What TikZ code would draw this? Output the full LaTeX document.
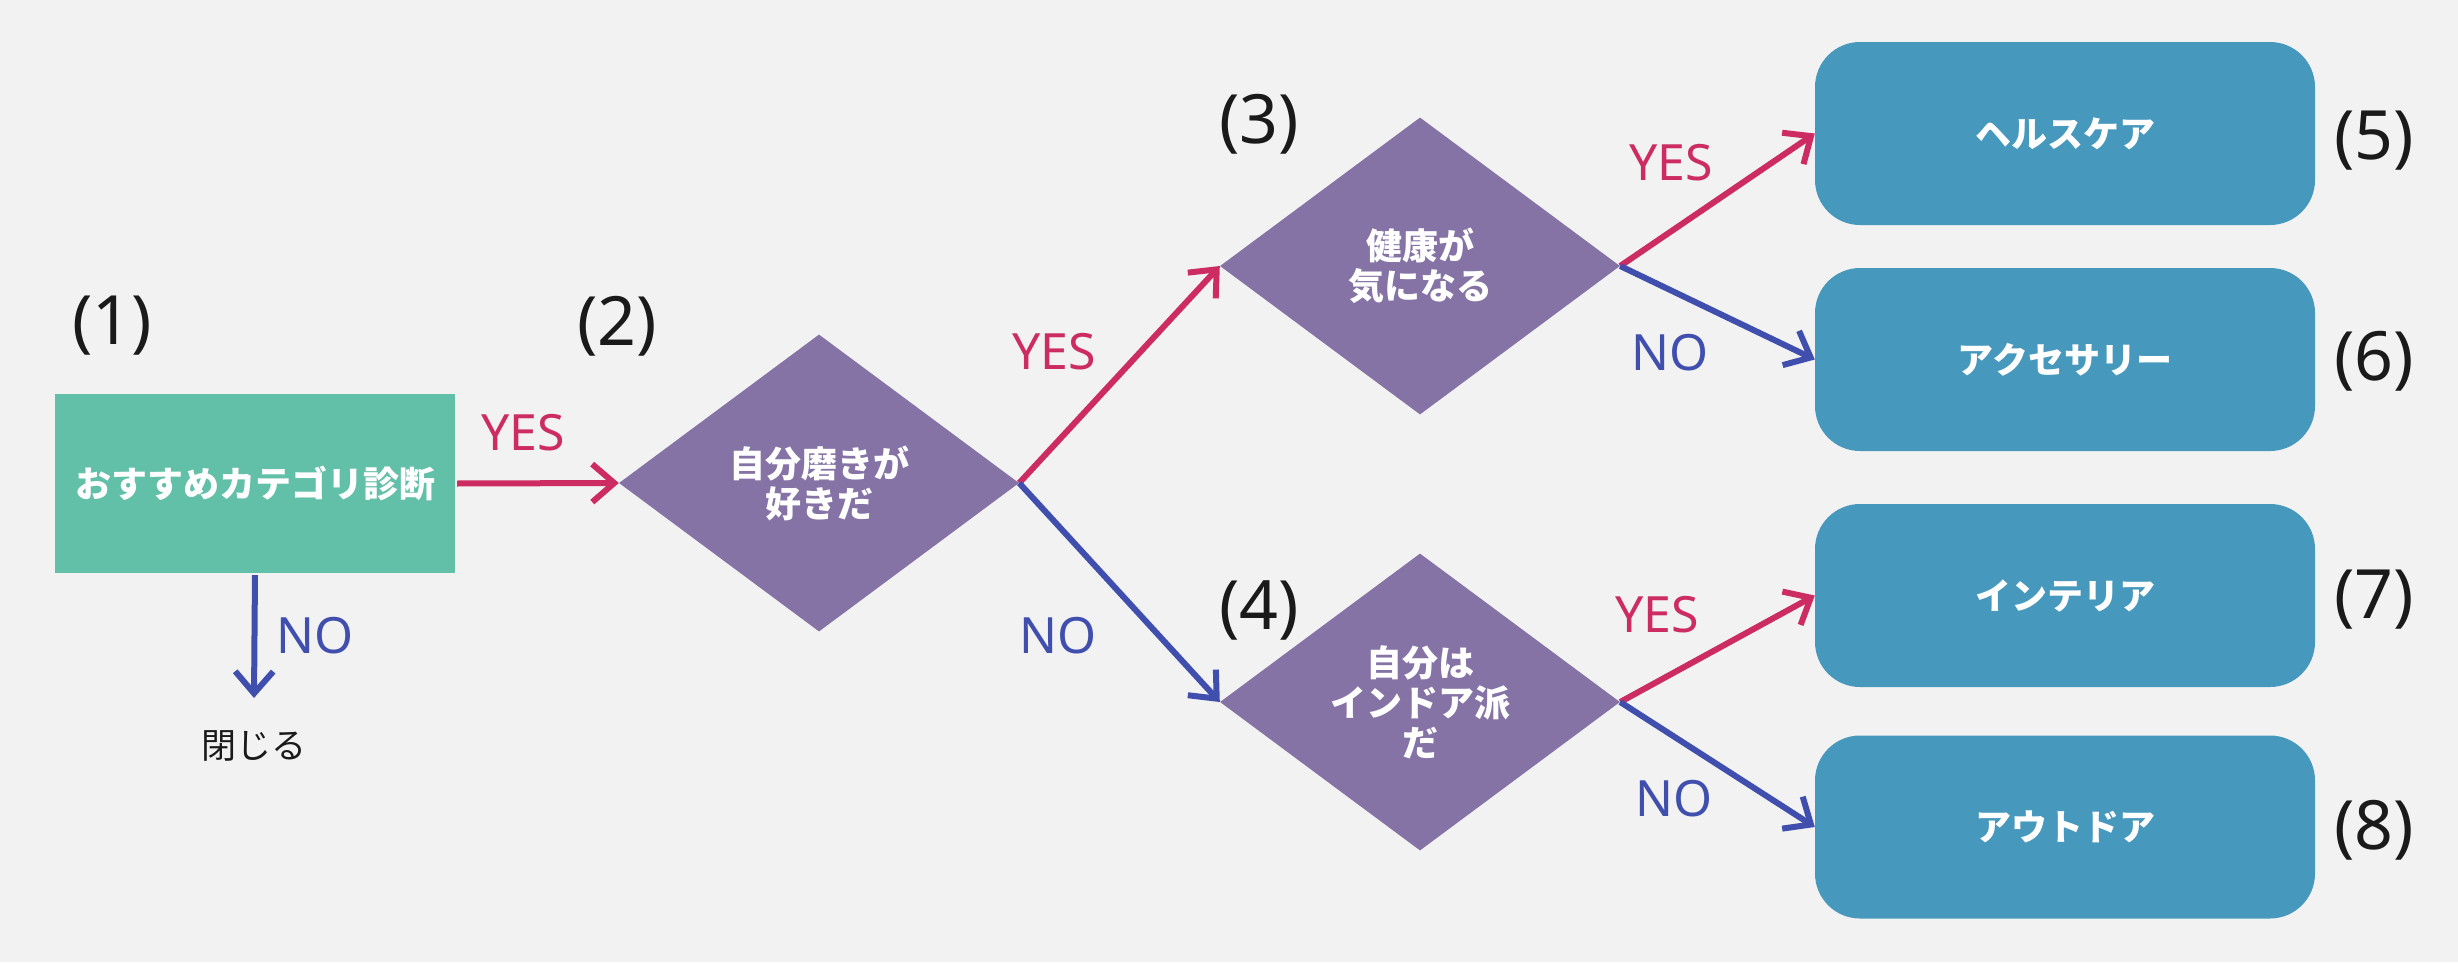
\documentclass[tikz,border=0pt]{standalone}
\usepackage{fontspec}
\setmainfont{Noto Sans}
\newfontfamily\cjk{Noto Sans CJK JP}
\usetikzlibrary{shapes.geometric,arrows.meta}
\definecolor{bgc}{HTML}{F2F2F2}
\definecolor{greenc}{HTML}{62BFA8}
\definecolor{purplec}{HTML}{8573A6}
\definecolor{bluec}{HTML}{4698BC}
\definecolor{yesc}{HTML}{CC2C62}
\definecolor{noc}{HTML}{404FAE}
\definecolor{textc}{HTML}{1A1A1A}
\tikzset{
  startbox/.style={rectangle, fill=greenc, minimum width=400pt, minimum height=179pt, inner sep=0pt,
    text=white, font=\cjk\bfseries\fontsize{36}{40}\selectfont},
  decision/.style={diamond, fill=purplec, minimum width=400pt, minimum height=297pt, inner sep=0pt,
    text=white, align=center, font=\cjk\bfseries\fontsize{36}{40}\selectfont},
  result/.style={rectangle, rounded corners=45pt, fill=bluec, minimum width=500pt, minimum height=183pt,
    inner sep=0pt, text=white, font=\cjk\bfseries\fontsize{36}{40}\selectfont},
  numlabel/.style={inner sep=0pt, text=textc, font=\fontsize{68}{70}\selectfont},
  yeslabel/.style={inner sep=0pt, text=yesc, font=\fontsize{50}{52}\selectfont},
  nolabel/.style={inner sep=0pt, text=noc, font=\fontsize{50}{52}\selectfont},
  yesarrow/.style={draw=yesc, line width=6pt, -{Straight Barb[length=22pt,width=38pt]}},
  noarrow/.style={draw=noc, line width=6pt, -{Straight Barb[length=22pt,width=38pt]}},
}
\begin{document}
\begin{tikzpicture}[x=1pt,y=-1pt]
\fill[bgc] (0,0) rectangle (2458,962);
\useasboundingbox (0,0) rectangle (2458,962);

% nodes
\node[startbox] (start) at (255,483.5) {おすすめカテゴリ診断};
\node[inner sep=0pt, text=textc, font=\cjk\fontsize{35}{38}\selectfont] (close) at (254,746) {閉じる};
\coordinate (closetip) at (254,698);

\node[decision] (d2) at (819,483) {自分磨きが\\好きだ};
\node[decision] (d3) at (1420,266) {健康が\\気になる};
\node[decision] (d4) at (1420,702) {自分は\\インドア派\\だ};

\node[result] (b5) at (2065,133.5) {ヘルスケア};
\node[result] (b6) at (2065,359.5) {アクセサリー};
\node[result] (b7) at (2065,595.5) {インテリア};
\node[result] (b8) at (2065,827) {アウトドア};

% number labels
\node[numlabel] (n1) at (112,326) {(1)};
\node[numlabel] (n2) at (617,326) {(2)};
\node[numlabel] (n3) at (1259,124.5) {(3)};
\node[numlabel] (n4) at (1259,610) {(4)};
\node[numlabel] (n5) at (2374,140.5) {(5)};
\node[numlabel] (n6) at (2374,361.5) {(6)};
\node[numlabel] (n7) at (2374,599.5) {(7)};
\node[numlabel] (n8) at (2374,830) {(8)};

% connectors
\draw[yesarrow, shorten <=2pt] (start.east) -- (d2.west);
\draw[noarrow, shorten <=2pt] (start.south) -- (closetip);
\draw[yesarrow] (d2.east) -- (d3.west);
\draw[noarrow] (d2.east) -- (d4.west);
\draw[yesarrow] (d3.east) -- (b5.west);
\draw[noarrow] (d3.east) -- (b6.west);
\draw[yesarrow] (d4.east) -- (b7.west);
\draw[noarrow] (d4.east) -- (b8.west);

% YES / NO labels
\node[yeslabel] (y1) at (523,433) {YES};
\node[nolabel] (o1) at (315,636) {NO};
\node[yeslabel] (y2) at (1054,351.5) {YES};
\node[nolabel] (o2) at (1058,636) {NO};
\node[yeslabel] (y3) at (1671,162.5) {YES};
\node[nolabel] (o3) at (1670,352.5) {NO};
\node[yeslabel] (y4) at (1657,615) {YES};
\node[nolabel] (o4) at (1674,798.5) {NO};
\end{tikzpicture}
\end{document}
